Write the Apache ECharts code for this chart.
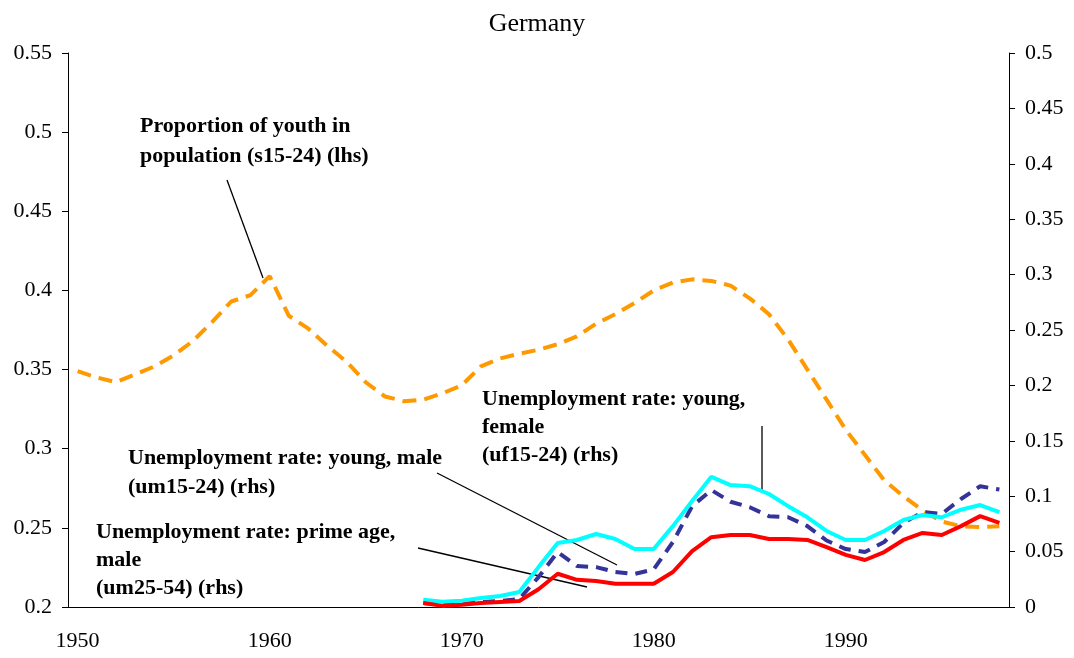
<!DOCTYPE html>
<html>
<head>
<meta charset="utf-8">
<script src="https://cdn.jsdelivr.net/npm/echarts@6/dist/echarts.min.js"></script>
<style>
  html, body { margin: 0; padding: 0; background: #fff; }
  #container { width: 1074px; height: 658px; }
</style>
</head>
<body>
<div id="container"></div>
<script>
var years = [];
for (var y = 1950; y <= 1998; y++) years.push(String(y));

// share of youth in population, lhs (1950-1998)
var youthShare = [
    0.349, 0.345, 0.342, 0.347, 0.352, 0.359, 0.368, 0.380, 0.393, 0.397,
    0.409, 0.384, 0.376, 0.365, 0.355, 0.342, 0.333, 0.330, 0.331, 0.335,
    0.340, 0.352, 0.357, 0.360, 0.3625, 0.366, 0.371, 0.379, 0.385, 0.392,
    0.400, 0.405, 0.407, 0.406, 0.403, 0.395, 0.385, 0.369, 0.350, 0.331,
    0.312, 0.296, 0.280, 0.270, 0.261, 0.254, 0.251, 0.2505, 0.251
];

// unemployment rates, rhs (1968-1998)
var unempStart = 1968;
var youngMale = [
    0.0036, 0.002, 0.003, 0.0045, 0.0054, 0.0072, 0.027, 0.0496, 0.037, 0.036,
    0.0316, 0.0298, 0.034, 0.0587, 0.091, 0.1055, 0.095, 0.090, 0.082, 0.081,
    0.073, 0.060, 0.0523, 0.0496, 0.0587, 0.0758, 0.0857, 0.084, 0.0975, 0.109,
    0.106
];
var youngFemale = [
    0.0066, 0.0048, 0.0057, 0.0081, 0.010, 0.0135, 0.036, 0.0578, 0.0605, 0.0659,
    0.0614, 0.0523, 0.0523, 0.073, 0.0957, 0.1175, 0.110, 0.109, 0.102, 0.091,
    0.081, 0.0686, 0.0605, 0.0605, 0.0686, 0.0785, 0.083, 0.081, 0.0878, 0.092,
    0.0857
];
var primeMale = [
    0.0036, 0.001, 0.002, 0.0036, 0.0045, 0.0054, 0.016, 0.030, 0.0245, 0.0235,
    0.021, 0.021, 0.021, 0.0316, 0.0505, 0.063, 0.065, 0.065, 0.0614, 0.0614,
    0.0605, 0.054, 0.047, 0.0424, 0.0496, 0.0605, 0.0668, 0.065, 0.073, 0.082,
    0.076
];

function pad(arr) {
    var out = [];
    for (var i = 0; i < unempStart - 1950; i++) out.push(null);
    return out.concat(arr);
}

var serif = 'Liberation Serif';
var dom = document.getElementById('container');
var myChart = echarts.init(dom);

var annoFont = 'bold 22px "Liberation Serif"';

option = {
    animation: false,
    backgroundColor: '#fff',
    title: {
        text: 'Germany',
        left: 'center',
        top: 6,
        textStyle: { fontFamily: serif, fontSize: 26, fontWeight: 'normal', color: '#000' }
    },
    grid: { left: 68, right: 65, top: 53, bottom: 51 },
    xAxis: {
        type: 'category',
        data: years,
        boundaryGap: true,
        axisLine: { lineStyle: { color: '#000', width: 1 } },
        axisTick: {
            length: 7,
            alignWithLabel: false,
            interval: function (index) { return index % 10 === 0; },
            lineStyle: { color: '#000' }
        },
        axisLabel: {
            interval: 9,
            margin: 23,
            fontFamily: serif,
            fontSize: 22,
            color: '#000'
        },
        splitLine: { show: false }
    },
    yAxis: [
        {
            type: 'value',
            min: 0.2,
            max: 0.55,
            interval: 0.05,
            axisLine: { show: true, lineStyle: { color: '#000', width: 1 } },
            axisTick: { show: true, length: 6, lineStyle: { color: '#000' } },
            axisLabel: { margin: 16, fontFamily: serif, fontSize: 22, color: '#000' },
            splitLine: { show: false }
        },
        {
            type: 'value',
            min: 0,
            max: 0.5,
            interval: 0.05,
            position: 'right',
            axisLine: { show: true, lineStyle: { color: '#000', width: 1 } },
            axisTick: { show: true, length: 6, lineStyle: { color: '#000' } },
            axisLabel: { margin: 16, fontFamily: serif, fontSize: 22, color: '#000' },
            splitLine: { show: false }
        }
    ],
    series: [
        {
            name: 's15-24',
            type: 'line',
            yAxisIndex: 0,
            data: youthShare,
            showSymbol: false,
            lineStyle: { color: '#FF9900', width: 4, type: [14, 8], cap: 'butt' }
        },
        {
            name: 'um15-24',
            type: 'line',
            yAxisIndex: 1,
            data: pad(youngMale),
            showSymbol: false,
            lineStyle: { color: '#333399', width: 4, type: [12, 8], cap: 'butt' }
        },
        {
            name: 'uf15-24',
            type: 'line',
            yAxisIndex: 1,
            data: pad(youngFemale),
            showSymbol: false,
            lineStyle: { color: '#00FFFF', width: 4 }
        },
        {
            name: 'um25-54',
            type: 'line',
            yAxisIndex: 1,
            data: pad(primeMale),
            showSymbol: false,
            lineStyle: { color: '#FF0000', width: 4 }
        }
    ],
    graphic: [
        // annotation texts
        { type: 'text', left: 140, top: 111, style: { text: 'Proportion of youth in\npopulation (s15-24) (lhs)', font: annoFont, fill: '#000', lineHeight: 30 } },
        { type: 'text', left: 482, top: 385, style: { text: 'Unemployment rate: young,\nfemale\n(uf15-24) (rhs)', font: annoFont, fill: '#000', lineHeight: 28 } },
        { type: 'text', left: 128, top: 444, style: { text: 'Unemployment rate: young, male\n(um15-24) (rhs)', font: annoFont, fill: '#000', lineHeight: 29 } },
        { type: 'text', left: 96, top: 518, style: { text: 'Unemployment rate: prime age,\nmale\n(um25-54) (rhs)', font: annoFont, fill: '#000', lineHeight: 28 } },
        // leader lines
        { type: 'line', shape: { x1: 227, y1: 180, x2: 263, y2: 278 }, style: { stroke: '#000', lineWidth: 1.3 } },
        { type: 'line', shape: { x1: 762, y1: 426, x2: 762, y2: 493 }, style: { stroke: '#000', lineWidth: 1.3 } },
        { type: 'line', shape: { x1: 437, y1: 473, x2: 617, y2: 565 }, style: { stroke: '#000', lineWidth: 1.3 } },
        { type: 'line', shape: { x1: 418, y1: 548, x2: 587, y2: 587 }, style: { stroke: '#000', lineWidth: 1.3 } }
    ]
};

if (option && typeof option === 'object') {
    myChart.setOption(option, true);
}
</script>
</body>
</html>
